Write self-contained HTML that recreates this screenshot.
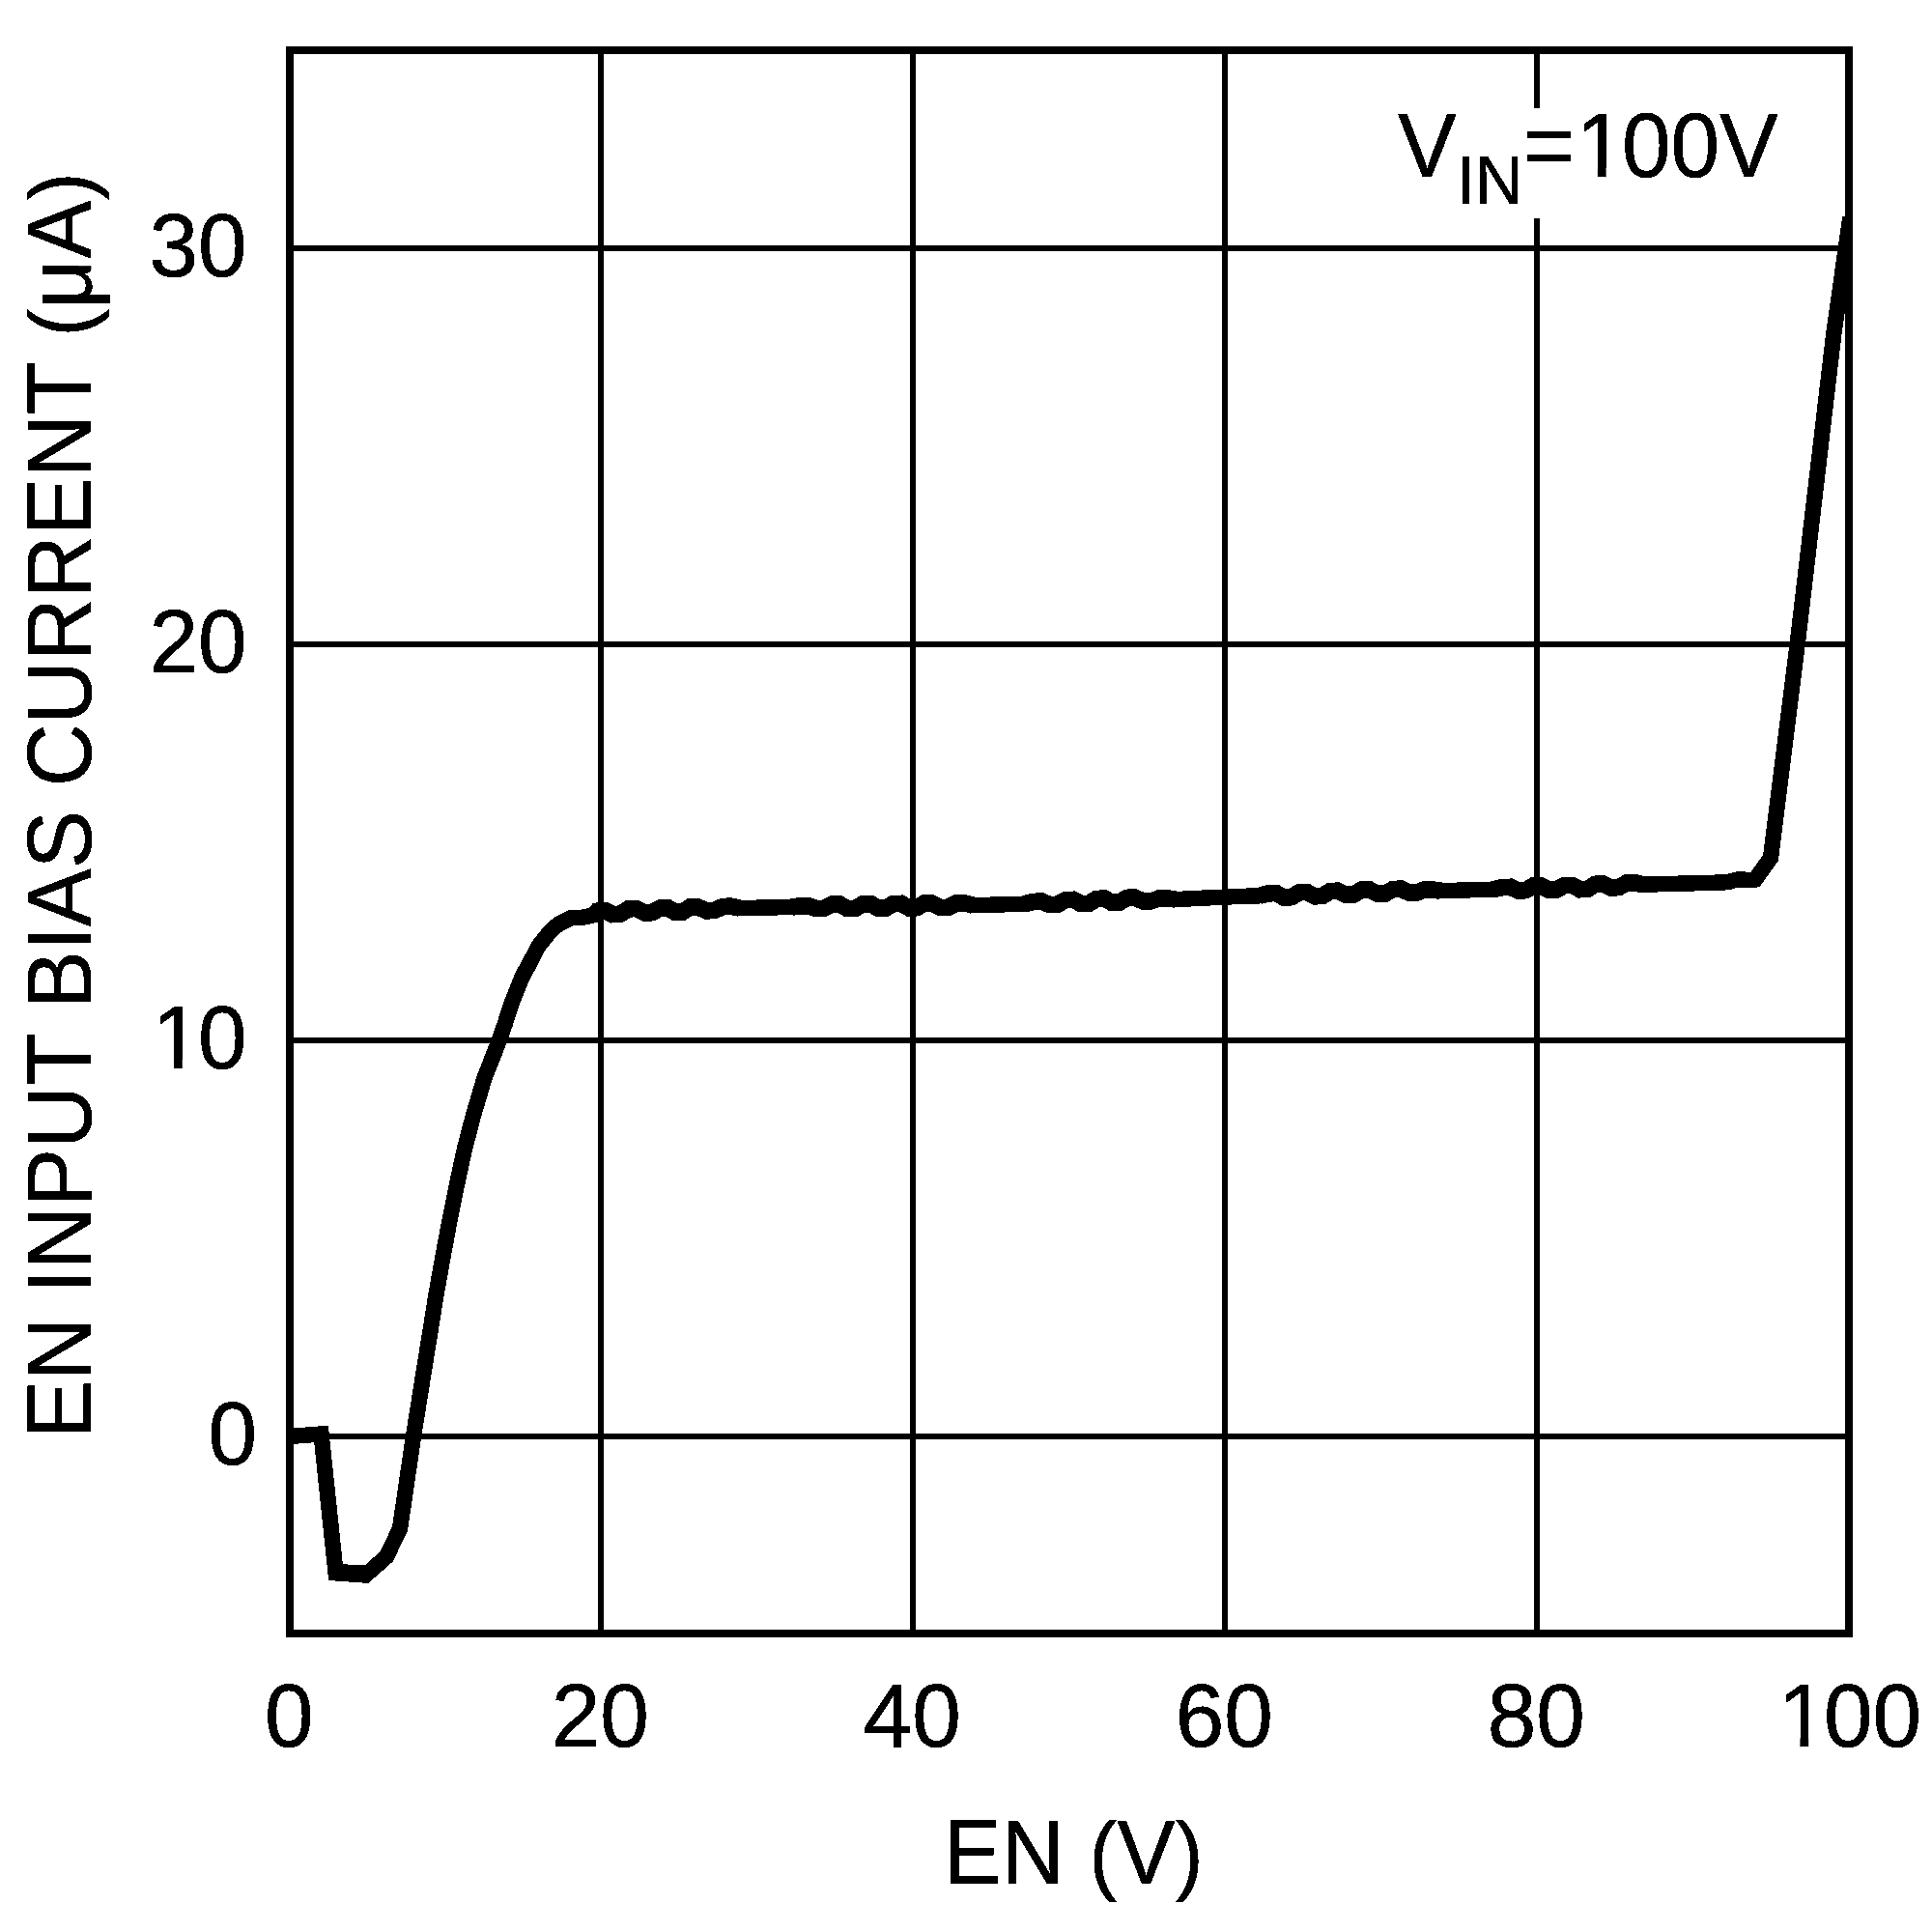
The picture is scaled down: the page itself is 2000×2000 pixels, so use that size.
<!DOCTYPE html>
<html lang="en"><head><meta charset="utf-8"><title>EN Input Bias Current vs EN</title>
<style>html,body{margin:0;padding:0;background:#fff;width:2000px;height:2000px;overflow:hidden}svg{display:block}text{font-family:"Liberation Sans", Arial, Helvetica, sans-serif;fill:#000;stroke:#000;stroke-width:0.6px;stroke-linejoin:miter;font-kerning:none;font-variant-ligatures:none}</style></head><body>
<svg width="2000" height="2000" viewBox="0 0 2000 2000">
<rect width="2000" height="2000" fill="#fff"/>
<defs><clipPath id="plot"><rect x="300" y="52" width="1614" height="1639"/></clipPath><filter id="hard" filterUnits="userSpaceOnUse" x="0" y="0" width="2000" height="2000" color-interpolation-filters="sRGB"><feComponentTransfer><feFuncA type="discrete" tableValues="0 1"/></feComponentTransfer></filter></defs>
<g fill="#000" shape-rendering="crispEdges">
<rect x="619" y="52" width="6" height="1639"/>
<rect x="942" y="52" width="6" height="1639"/>
<rect x="1265" y="52" width="6" height="1639"/>
<rect x="1588" y="52" width="6" height="1639"/>
<rect x="300" y="254" width="1614" height="6"/>
<rect x="300" y="664" width="1614" height="6"/>
<rect x="300" y="1074" width="1614" height="6"/>
<rect x="300" y="1484" width="1614" height="6"/>
</g>
<rect x="1436" y="112" width="416" height="114" fill="#fff"/>
<polyline clip-path="url(#plot)" shape-rendering="crispEdges" points="300.0,1487.0 332.5,1484.5 347.6,1628.3 378.5,1630.5 400.0,1611.5 414.0,1582.5 428.0,1487.0 438.7,1420.0 445.7,1376.7 451.6,1339.5 458.3,1302.2 465.2,1265.0 472.7,1227.7 480.7,1190.4 490.4,1153.2 501.5,1115.9 516.9,1076.8 522.7,1060.0 529.1,1039.8 540.3,1011.8 550.3,993.2 557.5,979.2 568.9,964.9 578.4,956.4 591.0,950.3 602.0,950.0 614.6,947.3 618.0,943.0 626.0,942.5 634.2,946.6 642.2,946.1 650.4,941.0 658.4,940.5 667.0,944.8 675.0,944.7 683.5,940.0 691.5,939.9 698.8,944.3 706.8,944.0 714.1,939.1 722.1,938.8 731.3,942.8 739.3,942.6 748.5,938.4 756.5,938.2 765.5,940.1 792.5,939.5 819.6,939.1 828.6,937.8 836.6,937.7 844.9,940.5 852.9,940.4 861.2,936.2 869.2,936.1 877.3,940.6 885.3,940.5 893.4,935.8 901.4,935.7 909.1,940.2 917.1,940.1 924.9,935.4 932.9,935.3 940.8,939.8 948.8,939.7 956.7,935.1 964.7,935.0 973.4,939.3 981.4,939.3 990.1,934.9 998.1,934.8 1007.1,937.1 1034.1,936.5 1061.1,935.6 1070.1,933.4 1078.1,933.0 1086.6,936.6 1094.6,936.3 1103.1,931.6 1111.1,931.3 1119.2,935.6 1127.2,935.3 1135.3,930.4 1143.3,930.1 1151.0,934.4 1159.0,934.1 1166.7,929.3 1174.7,929.1 1183.4,933.0 1191.4,932.9 1200.1,929.9 1208.1,929.8 1217.1,931.1 1244.1,929.7 1284.1,927.9 1304.1,927.3 1313.1,924.8 1321.1,924.6 1329.0,929.0 1337.0,928.7 1344.9,923.8 1352.9,923.5 1361.0,927.8 1369.0,927.5 1377.1,922.5 1385.1,922.2 1393.2,926.4 1401.2,926.1 1409.4,921.2 1417.4,920.8 1425.9,925.2 1433.9,925.1 1442.4,920.4 1450.4,920.2 1458.5,924.1 1466.5,924.0 1474.5,921.0 1482.5,920.9 1491.5,922.2 1518.5,921.4 1546.7,920.6 1555.7,918.5 1563.7,918.3 1571.3,922.0 1579.3,921.7 1587.0,917.1 1595.0,916.9 1603.2,921.3 1611.2,921.2 1619.5,916.5 1627.5,916.4 1635.5,920.7 1643.5,920.3 1651.6,915.3 1659.6,914.9 1667.8,919.0 1675.8,918.6 1683.9,914.0 1691.9,913.7 1700.9,915.8 1727.9,914.9 1767.9,914.0 1788.3,913.2 1797.3,910.7 1805.3,910.5 1810.0,911.2 1817.0,910.5 1833.0,888.0 1860.6,667.4 1898.5,344.0 1915.4,225.0" fill="none" stroke="#000" stroke-width="16.4" stroke-linejoin="miter" stroke-miterlimit="6" stroke-linecap="butt"/>
<polyline clip-path="url(#plot)" shape-rendering="crispEdges" points="618.0,943.0 626.0,942.5 634.2,946.6 642.2,946.1 650.4,941.0 658.4,940.5 667.0,944.8 675.0,944.7 683.5,940.0 691.5,939.9 698.8,944.3 706.8,944.0 714.1,939.1 722.1,938.8 731.3,942.8 739.3,942.6 748.5,938.4 756.5,938.2 765.5,940.1" fill="none" stroke="#000" stroke-width="17.6" stroke-linejoin="miter" stroke-miterlimit="6" stroke-linecap="butt"/>
<polyline clip-path="url(#plot)" shape-rendering="crispEdges" points="819.6,939.1 828.6,937.8 836.6,937.7 844.9,940.5 852.9,940.4 861.2,936.2 869.2,936.1 877.3,940.6 885.3,940.5 893.4,935.8 901.4,935.7 909.1,940.2 917.1,940.1 924.9,935.4 932.9,935.3 940.8,939.8 948.8,939.7 956.7,935.1 964.7,935.0 973.4,939.3 981.4,939.3 990.1,934.9 998.1,934.8 1007.1,937.1" fill="none" stroke="#000" stroke-width="17.6" stroke-linejoin="miter" stroke-miterlimit="6" stroke-linecap="butt"/>
<polyline clip-path="url(#plot)" shape-rendering="crispEdges" points="1061.1,935.6 1070.1,933.4 1078.1,933.0 1086.6,936.6 1094.6,936.3 1103.1,931.6 1111.1,931.3 1119.2,935.6 1127.2,935.3 1135.3,930.4 1143.3,930.1 1151.0,934.4 1159.0,934.1 1166.7,929.3 1174.7,929.1 1183.4,933.0 1191.4,932.9 1200.1,929.9 1208.1,929.8 1217.1,931.1" fill="none" stroke="#000" stroke-width="17.6" stroke-linejoin="miter" stroke-miterlimit="6" stroke-linecap="butt"/>
<polyline clip-path="url(#plot)" shape-rendering="crispEdges" points="1304.1,927.3 1313.1,924.8 1321.1,924.6 1329.0,929.0 1337.0,928.7 1344.9,923.8 1352.9,923.5 1361.0,927.8 1369.0,927.5 1377.1,922.5 1385.1,922.2 1393.2,926.4 1401.2,926.1 1409.4,921.2 1417.4,920.8 1425.9,925.2 1433.9,925.1 1442.4,920.4 1450.4,920.2 1458.5,924.1 1466.5,924.0 1474.5,921.0 1482.5,920.9 1491.5,922.2" fill="none" stroke="#000" stroke-width="17.6" stroke-linejoin="miter" stroke-miterlimit="6" stroke-linecap="butt"/>
<polyline clip-path="url(#plot)" shape-rendering="crispEdges" points="1546.7,920.6 1555.7,918.5 1563.7,918.3 1571.3,922.0 1579.3,921.7 1587.0,917.1 1595.0,916.9 1603.2,921.3 1611.2,921.2 1619.5,916.5 1627.5,916.4 1635.5,920.7 1643.5,920.3 1651.6,915.3 1659.6,914.9 1667.8,919.0 1675.8,918.6 1683.9,914.0 1691.9,913.7 1700.9,915.8" fill="none" stroke="#000" stroke-width="17.6" stroke-linejoin="miter" stroke-miterlimit="6" stroke-linecap="butt"/>
<polyline clip-path="url(#plot)" shape-rendering="crispEdges" points="347.6,1627 378.5,1628.3" fill="none" stroke="#000" stroke-width="16" stroke-linecap="butt"/>
<rect x="300" y="52" width="1614" height="1639" fill="none" stroke="#000" stroke-width="8" shape-rendering="crispEdges"/>
<g filter="url(#hard)">
<text transform="translate(255.7 286) scale(1 1.012)" font-size="91" text-anchor="end">30</text>
<text transform="translate(255.7 696) scale(1 1.012)" font-size="91" text-anchor="end">20</text>
<text transform="translate(154.48 1106) scale(1 1.012)" font-size="91" text-anchor="start"><tspan dx="3">1</tspan><tspan dx="-3">0</tspan></text>
<g transform="translate(157.48 1106) scale(1 1.012)" fill="#fff"><rect x="5.11" y="-8.89" width="17.42" height="10.66"/><rect x="31.28" y="-8.89" width="16.62" height="10.66"/></g>
<text transform="translate(266 1516) scale(1 1.012)" font-size="91" text-anchor="end">0</text>
<text transform="translate(299.3 1808) scale(1 1.012)" font-size="91" text-anchor="middle">0</text>
<text transform="translate(621.3 1808) scale(1 1.012)" font-size="91" text-anchor="middle">20</text>
<text transform="translate(944.3 1808) scale(1 1.012)" font-size="91" text-anchor="middle">40</text>
<text transform="translate(1267.3 1808) scale(1 1.012)" font-size="91" text-anchor="middle">60</text>
<text transform="translate(1590.3 1808) scale(1 1.012)" font-size="91" text-anchor="middle">80</text>
<text transform="translate(1837.39 1808) scale(1 1.012)" font-size="91" text-anchor="start"><tspan dx="3.5">1</tspan><tspan dx="-3.5">00</tspan></text>
<g transform="translate(1840.89 1808) scale(1 1.012)" fill="#fff"><rect x="5.11" y="-8.89" width="17.42" height="10.66"/><rect x="31.28" y="-8.89" width="16.62" height="10.66"/></g>
<text id="xt" transform="translate(976.6 1950) scale(0.989 1.03)" font-size="91" text-anchor="start">EN <tspan font-size="87.6" dx="0.91">(</tspan><tspan dx="0.23">V</tspan><tspan font-size="87.6" dx="0.23">)</tspan></text>
<text id="yt" transform="translate(94 1489) rotate(-90) scale(0.9887 1.03)" font-size="91" text-anchor="start">EN INPUT BIAS CURRENT <tspan font-size="87.6" dx="0.91">(</tspan><tspan dx="0.23">µA</tspan><tspan font-size="87.6" dx="0.23">)</tspan></text>
<g transform="translate(94 1489) rotate(-90) scale(0.9887 1.03)" fill="#fff"><rect x="1227.66" y="-12.22" width="6.67" height="15.33"/><rect x="1221.75" y="0.36" width="6.22" height="2.75"/></g>
<text id="an" transform="translate(1447 183) scale(1 1.03)" font-size="91" text-anchor="start">V<tspan font-size="69" dy="27">IN</tspan><tspan dy="-27">=</tspan><tspan dx="1.5">1</tspan><tspan dx="-3">00V</tspan></text>
<g transform="translate(1631.34 183) scale(1 1.03)" fill="#fff"><rect x="5.11" y="-8.89" width="17.42" height="10.66"/><rect x="31.28" y="-8.89" width="16.62" height="10.66"/></g>
</g>
</svg></body></html>
